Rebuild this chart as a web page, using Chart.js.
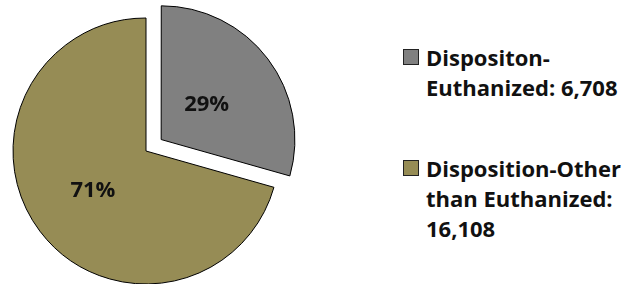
<!DOCTYPE html>
<html>
<head>
<meta charset="utf-8">
<script src="https://cdn.jsdelivr.net/npm/chart.js@4.4.0/dist/chart.umd.min.js"></script>
<style>
  html, body { margin: 0; padding: 0; background: #fff; overflow: hidden; }
  body { width: 625px; height: 284px; position: relative; font-family: "Open Sans", sans-serif; }
  #pieWrap { position: absolute; left: -14px; top: -9px; width: 320px; height: 320px; }
  #legend { position: absolute; left: 403px; top: 0; }
  .item { position: absolute; left: 0; white-space: nowrap; }
  .box { position: absolute; left: 0; width: 14px; height: 14px; border: 1px solid #222; }
  .txt { position: absolute; left: 23px; font-weight: 700; font-size: 22px; line-height: 30px; color: #111; }
</style>
</head>
<body>
<div id="pieWrap"><canvas id="pie" width="320" height="320"></canvas></div>
<div id="legend"></div>
<script>
(function () {
  "use strict";

  const labels = ["Dispositon-Euthanized", "Disposition-Other than Euthanized"];
  const legendLines = [
    ["Dispositon-", "Euthanized: 6,708"],
    ["Disposition-Other", "than Euthanized:", "16,108"]
  ];
  const counts = [6708, 16108];
  const colors = ["#808080", "#968c55"];
  // pixels the slice is pulled out
  const explode = [19, 0];

  const total = counts.reduce((a, b) => a + b, 0);

  const pctLabels = {
    id: "pctLabels",
    afterDatasetsDraw(chart) {
      const c = chart.ctx;
      const meta = chart.getDatasetMeta(0);
      c.save();
      c.font = "bold 22px 'Open Sans', sans-serif";
      c.fillStyle = "#111";
      c.textAlign = "center";
      c.textBaseline = "middle";
      meta.data.forEach((arc, i) => {
        const { x, y, startAngle, endAngle, outerRadius } = arc.getProps(["x", "y", "startAngle", "endAngle", "outerRadius"]);
        const mid = (startAngle + endAngle) / 2;
        const r = (outerRadius + explode[i]) / 2;
        c.fillText(Math.round(counts[i] / total * 100) + "%", x + Math.cos(mid) * r, y + Math.sin(mid) * r);
      });
      c.restore();
    }
  };

  new Chart(document.getElementById("pie"), {
    type: "pie",
    data: {
      labels,
      datasets: [{
        data: counts,
        backgroundColor: colors,
        borderColor: "#000",
        borderWidth: 1,
        offset: explode.map(v => v * 4), // v4 arcs move by offset/4
        radius: 133
      }]
    },
    options: {
      responsive: false,
      animation: false,
      plugins: { legend: { display: false }, tooltip: { enabled: false } }
    },
    plugins: [pctLabels]
  });

  // legend on the right
  const legend = document.getElementById("legend");
  const tops = [42, 153];
  legendLines.forEach((lines, i) => {
    const item = document.createElement("div");
    item.className = "item";
    item.style.top = tops[i] + "px";
    item.innerHTML = `<div class="box" style="background:${colors[i]};top:7px"></div>` +
      `<div class="txt">${lines.join("<br>")}</div>`;
    legend.appendChild(item);
  });
})();
</script>
</body>
</html>
